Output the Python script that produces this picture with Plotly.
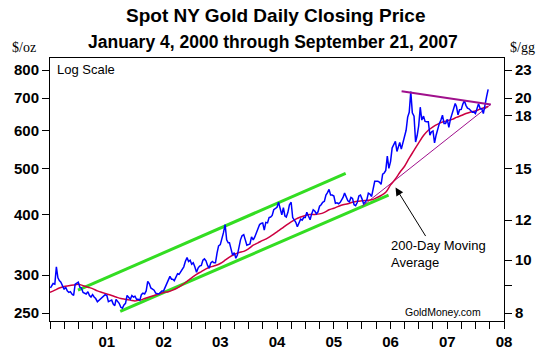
import math
import plotly.graph_objects as go

# ---------------- data ----------------
# Gold price samples (USD/oz), three per month (days 1, 11, 21), Jan 2000 - Sep 2007
sample_days = [1, 11, 21]
gold_price = [
    # 2000
    282, 284, 288, 287, 312, 296, 292, 290, 285, 280, 283, 278,
    276, 277, 274, 272, 287, 289, 290, 283, 282, 276, 275, 274,
    277, 272, 270, 273, 270, 268, 264, 266, 267, 270, 272, 273,
    # 2001
    272, 264, 265, 266, 261, 259, 267, 264, 262, 257, 256, 260,
    262, 272, 270, 267, 272, 270, 271, 267, 267, 266, 273, 275,
    274, 278, 291, 288, 282, 280, 279, 275, 274, 274, 276, 278,
    # 2002
    278, 283, 286, 292, 298, 294, 294, 292, 297, 302, 301, 305,
    309, 312, 320, 326, 320, 322, 316, 318, 312, 304, 310, 313,
    314, 322, 324, 321, 314, 310, 318, 320, 318, 318, 333, 345,
    # 2003
    347, 355, 367, 382, 355, 350, 350, 340, 330, 334, 325, 330,
    344, 355, 362, 364, 355, 346, 347, 348, 360, 355, 360, 366,
    375, 382, 384, 385, 372, 386, 385, 395, 396, 399, 410, 412,
    # 2004
    415, 425, 410, 400, 414, 398, 396, 405, 420, 425, 395, 390,
    386, 378, 385, 392, 390, 395, 395, 405, 398, 391, 402, 410,
    407, 402, 406, 417, 420, 425, 427, 440, 445, 452, 440, 440,
    # 2005
    438, 423, 424, 422, 425, 430, 435, 444, 434, 428, 426, 435,
    433, 420, 418, 425, 438, 440, 432, 422, 425, 430, 444, 442,
    437, 457, 470, 470, 470, 468, 463, 486, 489, 495, 530, 500,
    # 2006
    517, 551, 560, 569, 542, 554, 566, 548, 565, 585, 600, 639,
    654, 722, 652, 642, 567, 585, 613, 670, 630, 642, 626, 625,
    625, 586, 595, 598, 565, 586, 609, 620, 630, 645, 620, 620,
    # 2007
    632, 608, 632, 648, 665, 682, 672, 646, 662, 663, 680, 691,
    676, 667, 665, 660, 654, 655, 650, 665, 681, 665, 665, 650,
    673, 705, 730,
]

# 200-day moving average, monthly (1st of month), Jan 2000 - Sep 2007
ma200 = [
    276, 279, 282, 284, 285, 286, 287, 285, 283, 281, 278, 276,
    274, 272, 270, 268, 267, 266, 265, 266, 268, 270, 272, 274,
    276, 277, 279, 282, 286, 291, 296, 301, 305, 309, 312, 314,
    317, 322, 327, 331, 334, 336, 340, 346, 350, 354, 358, 363,
    369, 375, 381, 387, 392, 396, 399, 401, 401, 402, 405, 410,
    413, 417, 420, 422, 425, 427, 428, 429, 430, 434, 439, 446,
    462, 475, 490, 505, 525, 545, 565, 585, 600, 610, 618, 624,
    628, 632, 638, 644, 650, 655, 658, 664, 672,
]

# Trend channel (green) and triangle (magenta) end points
channel_upper_dates = ["2000-06-29", "2005-03-18"]
channel_upper_vals = [279, 488]
channel_lower_dates = ["2001-03-28", "2005-12-19"]
channel_lower_vals = [252, 440]
tri_upper_dates = ["2006-03-13", "2007-10-08"]
tri_upper_vals = [723, 679]
tri_lower_dates = ["2005-07-02", "2007-10-08"]
tri_lower_vals = [417, 679]

# axis ticks
oz_ticks = [250, 300, 400, 500, 600, 700, 800]
gg_tick_pos = [800, 700, 643, 500, 390, 322, 285, 250]
gg_tick_labels = ["23", "20", "18", "15", "12", "10", "", "8"]
year_labels = ["", "01", "02", "03", "04", "05", "06", "07", "08"]

# ---------------- build dates ----------------
price_dates = []
for y in range(2000, 2008):
    for m in range(1, 13):
        for d in sample_days:
            price_dates.append(f"{y}-{m:02d}-{d:02d}")
price_dates = price_dates[:len(gold_price)]
price_dates[0] = "2000-01-04"

ma_dates = []
for y in range(2000, 2008):
    for m in range(1, 13):
        ma_dates.append(f"{y}-{m:02d}-01")
ma_dates = ma_dates[:len(ma200)]
ma_dates[-1] = "2007-09-21"

x_tickvals = []
x_ticktext = []
for i, y in enumerate(range(2000, 2009)):
    for q, m in enumerate([1, 4, 7, 10]):
        if y == 2008 and m > 1:
            break
        x_tickvals.append(f"{y}-{m:02d}-01")
        x_ticktext.append(year_labels[i] if q == 0 else "")

yr = [math.log10(240.7), math.log10(848)]

GREEN = "#33dd22"
MAG = "#a0108c"
RED = "#cc0040"

fig = go.Figure()
fig.add_trace(go.Scatter(x=channel_upper_dates, y=channel_upper_vals, mode="lines",
                         line=dict(color=GREEN, width=3)))
fig.add_trace(go.Scatter(x=channel_lower_dates, y=channel_lower_vals, mode="lines",
                         line=dict(color=GREEN, width=3)))
fig.add_trace(go.Scatter(x=tri_lower_dates, y=tri_lower_vals, mode="lines",
                         line=dict(color=MAG, width=1)))
fig.add_trace(go.Scatter(x=ma_dates, y=ma200, mode="lines", line_shape="spline",
                         line=dict(color=RED, width=1.5)))
fig.add_trace(go.Scatter(x=price_dates, y=gold_price, mode="lines",
                         line=dict(color="#0000ff", width=1.5)))
fig.add_trace(go.Scatter(x=tri_upper_dates, y=tri_upper_vals, mode="lines",
                         line=dict(color=MAG, width=2)))
# carrier for the right ($/gg) axis
fig.add_trace(go.Scatter(x=[price_dates[0]], y=[gold_price[0]], yaxis="y2", mode="markers",
                         marker=dict(opacity=0), hoverinfo="skip"))

tickfont = dict(family="Liberation Sans", size=15, color="black", weight="bold")

# plot area in window coords: x 50..504, y 58..324
fig.update_layout(
    width=547, height=362,
    margin=dict(l=50, r=547 - 504, t=58, b=362 - 324),
    paper_bgcolor="white", plot_bgcolor="white",
    showlegend=False,
    xaxis=dict(type="date", range=["2000-01-01", "2008-01-01"],
               tickvals=x_tickvals, ticktext=x_ticktext,
               ticks="outside", ticklen=7, tickcolor="black", tickwidth=1,
               showline=True, linecolor="black", linewidth=1, mirror=True,
               showgrid=False, zeroline=False, tickfont=tickfont, tickangle=0),
    yaxis=dict(type="log", range=yr, tickvals=oz_ticks, ticktext=[str(v) for v in oz_ticks],
               ticks="outside", ticklen=7, tickcolor="black",
               showline=True, linecolor="black", linewidth=1, mirror=True,
               showgrid=False, zeroline=False, tickfont=tickfont),
    yaxis2=dict(type="log", range=yr, overlaying="y", side="right",
                tickvals=gg_tick_pos, ticktext=gg_tick_labels,
                ticks="outside", ticklen=7, tickcolor="black",
                showline=False, showgrid=False, zeroline=False, tickfont=tickfont),
)

def px_x(px):
    return (px - 50) / 454.0

def px_y(py):
    return (324 - py) / 266.0

ann = []
ann.append(dict(text="Spot NY Gold Daily Closing Price", x=px_x(275), y=px_y(15),
                xref="paper", yref="paper", showarrow=False, xanchor="center", yanchor="middle",
                font=dict(family="Liberation Sans", size=19, color="black", weight="bold")))
ann.append(dict(text="January 4, 2000 through September 21, 2007", x=px_x(273), y=px_y(42),
                xref="paper", yref="paper", showarrow=False, xanchor="center", yanchor="middle",
                font=dict(family="Liberation Sans", size=17.5, color="black", weight="bold")))
ann.append(dict(text="$/oz", x=px_x(24), y=px_y(47), xref="paper", yref="paper", showarrow=False,
                xanchor="center", yanchor="middle",
                font=dict(family="Liberation Serif", size=14, color="black")))
ann.append(dict(text="$/gg", x=px_x(522), y=px_y(47), xref="paper", yref="paper", showarrow=False,
                xanchor="center", yanchor="middle",
                font=dict(family="Liberation Serif", size=14, color="black")))
ann.append(dict(text="Log Scale", x=px_x(55), y=px_y(70), xref="paper", yref="paper", showarrow=False,
                xanchor="left", yanchor="middle",
                font=dict(family="Liberation Sans", size=13, color="black")))
ann.append(dict(text="GoldMoney.com", x=px_x(443), y=px_y(315), xref="paper", yref="paper",
                showarrow=False, xanchor="center", yanchor="middle",
                font=dict(family="Liberation Sans", size=10.5, color="black")))
ann.append(dict(text="200-Day Moving<br>Average", x=px_x(389), y=px_y(238), xref="paper", yref="paper",
                showarrow=False, xanchor="left", yanchor="top", align="left",
                font=dict(family="Liberation Sans", size=13, color="black")))
ann.append(dict(text="", x="2006-02-02", y=math.log10(456), xref="x", yref="y",
                showarrow=True, ax=31, ay=50, arrowhead=2, arrowsize=1.6, arrowwidth=1,
                arrowcolor="black", standoff=0))
fig.update_layout(annotations=ann)

# remove the browser's default 8px page margin so the figure fills the window
fig.write_html("out.html", config={"displayModeBar": False},
               post_script="document.body.style.margin='0';")
